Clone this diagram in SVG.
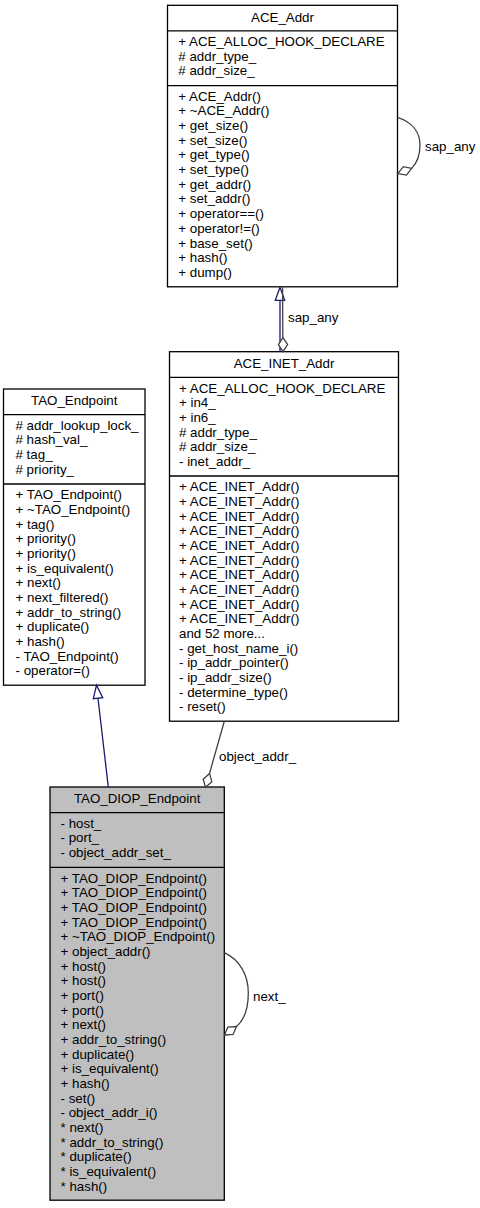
<svg xmlns="http://www.w3.org/2000/svg" width="480" height="1208" viewBox="0 0 480 1208">
<style>
text{font-family:"Liberation Sans",Arial,sans-serif;font-size:13.33px;fill:#000}
.t{text-anchor:middle}
.box{fill:#fff;stroke:#000;stroke-width:1.3}
.cur{fill:#bfbfbf;stroke:#000;stroke-width:1.3}
.sep{stroke:#000;stroke-width:1.3;fill:none}
.inh{stroke:#191970;stroke-width:1.3;fill:none}
.inhh{stroke:#191970;stroke-width:1.3;fill:#fff}
.use{stroke:#404040;stroke-width:1.3;fill:none}
.dia{stroke:#404040;stroke-width:1.3;fill:#fff}
</style>
<rect width="480" height="1208" fill="#fff"/>
<g id="ACE_Addr">
<rect class="box" x="167.5" y="5.3" width="230" height="281.5"/>
<line class="sep" x1="167.5" y1="30.9" x2="397.5" y2="30.9"/>
<line class="sep" x1="167.5" y1="85.6" x2="397.5" y2="85.6"/>
<text class="t" x="282.5" y="21.6">ACE_Addr</text>
<text><tspan x="178.3" y="46.1">+ ACE_ALLOC_HOOK_DECLARE</tspan><tspan x="178.3" dy="14.67"># addr_type_</tspan><tspan x="178.3" dy="14.67"># addr_size_</tspan></text>
<text><tspan x="178.3" y="100.8">+ ACE_Addr()</tspan><tspan x="178.3" dy="14.67">+ ~ACE_Addr()</tspan><tspan x="178.3" dy="14.67">+ get_size()</tspan><tspan x="178.3" dy="14.67">+ set_size()</tspan><tspan x="178.3" dy="14.67">+ get_type()</tspan><tspan x="178.3" dy="14.67">+ set_type()</tspan><tspan x="178.3" dy="14.67">+ get_addr()</tspan><tspan x="178.3" dy="14.67">+ set_addr()</tspan><tspan x="178.3" dy="14.67">+ operator==()</tspan><tspan x="178.3" dy="14.67">+ operator!=()</tspan><tspan x="178.3" dy="14.67">+ base_set()</tspan><tspan x="178.3" dy="14.67">+ hash()</tspan><tspan x="178.3" dy="14.67">+ dump()</tspan></text>
</g>
<g id="ACE_INET_Addr">
<rect class="box" x="169.5" y="351.7" width="229" height="369.5"/>
<line class="sep" x1="169.5" y1="377.3" x2="398.5" y2="377.3"/>
<line class="sep" x1="169.5" y1="476" x2="398.5" y2="476"/>
<text class="t" x="284" y="368">ACE_INET_Addr</text>
<text><tspan x="179" y="392.5">+ ACE_ALLOC_HOOK_DECLARE</tspan><tspan x="179" dy="14.67">+ in4_</tspan><tspan x="179" dy="14.67">+ in6_</tspan><tspan x="179" dy="14.67"># addr_type_</tspan><tspan x="179" dy="14.67"># addr_size_</tspan><tspan x="179" dy="14.67">- inet_addr_</tspan></text>
<text><tspan x="179" y="491.2">+ ACE_INET_Addr()</tspan><tspan x="179" dy="14.67">+ ACE_INET_Addr()</tspan><tspan x="179" dy="14.67">+ ACE_INET_Addr()</tspan><tspan x="179" dy="14.67">+ ACE_INET_Addr()</tspan><tspan x="179" dy="14.67">+ ACE_INET_Addr()</tspan><tspan x="179" dy="14.67">+ ACE_INET_Addr()</tspan><tspan x="179" dy="14.67">+ ACE_INET_Addr()</tspan><tspan x="179" dy="14.67">+ ACE_INET_Addr()</tspan><tspan x="179" dy="14.67">+ ACE_INET_Addr()</tspan><tspan x="179" dy="14.67">+ ACE_INET_Addr()</tspan><tspan x="179" dy="14.67">and 52 more...</tspan><tspan x="179" dy="14.67">- get_host_name_i()</tspan><tspan x="179" dy="14.67">- ip_addr_pointer()</tspan><tspan x="179" dy="14.67">- ip_addr_size()</tspan><tspan x="179" dy="14.67">- determine_type()</tspan><tspan x="179" dy="14.67">- reset()</tspan></text>
</g>
<g id="TAO_Endpoint">
<rect class="box" x="3.5" y="389" width="141.5" height="296.2"/>
<line class="sep" x1="3.5" y1="414.6" x2="145" y2="414.6"/>
<line class="sep" x1="3.5" y1="484" x2="145" y2="484"/>
<text class="t" x="74.25" y="405.3">TAO_Endpoint</text>
<text><tspan x="15.5" y="429.8"># addr_lookup_lock_</tspan><tspan x="15.5" dy="14.67"># hash_val_</tspan><tspan x="15.5" dy="14.67"># tag_</tspan><tspan x="15.5" dy="14.67"># priority_</tspan></text>
<text><tspan x="15.5" y="499.2">+ TAO_Endpoint()</tspan><tspan x="15.5" dy="14.67">+ ~TAO_Endpoint()</tspan><tspan x="15.5" dy="14.67">+ tag()</tspan><tspan x="15.5" dy="14.67">+ priority()</tspan><tspan x="15.5" dy="14.67">+ priority()</tspan><tspan x="15.5" dy="14.67">+ is_equivalent()</tspan><tspan x="15.5" dy="14.67">+ next()</tspan><tspan x="15.5" dy="14.67">+ next_filtered()</tspan><tspan x="15.5" dy="14.67">+ addr_to_string()</tspan><tspan x="15.5" dy="14.67">+ duplicate()</tspan><tspan x="15.5" dy="14.67">+ hash()</tspan><tspan x="15.5" dy="14.67">- TAO_Endpoint()</tspan><tspan x="15.5" dy="14.67">- operator=()</tspan></text>
</g>
<g id="TAO_DIOP_Endpoint">
<rect class="cur" x="50" y="787" width="174.3" height="413.2"/>
<line class="sep" x1="50" y1="812.6" x2="224.3" y2="812.6"/>
<line class="sep" x1="50" y1="867.3" x2="224.3" y2="867.3"/>
<text class="t" x="137.15" y="803.3">TAO_DIOP_Endpoint</text>
<text><tspan x="60.5" y="827.8">- host_</tspan><tspan x="60.5" dy="14.67">- port_</tspan><tspan x="60.5" dy="14.67">- object_addr_set_</tspan></text>
<text><tspan x="60.5" y="882.5">+ TAO_DIOP_Endpoint()</tspan><tspan x="60.5" dy="14.67">+ TAO_DIOP_Endpoint()</tspan><tspan x="60.5" dy="14.67">+ TAO_DIOP_Endpoint()</tspan><tspan x="60.5" dy="14.67">+ TAO_DIOP_Endpoint()</tspan><tspan x="60.5" dy="14.67">+ ~TAO_DIOP_Endpoint()</tspan><tspan x="60.5" dy="14.67">+ object_addr()</tspan><tspan x="60.5" dy="14.67">+ host()</tspan><tspan x="60.5" dy="14.67">+ host()</tspan><tspan x="60.5" dy="14.67">+ port()</tspan><tspan x="60.5" dy="14.67">+ port()</tspan><tspan x="60.5" dy="14.67">+ next()</tspan><tspan x="60.5" dy="14.67">+ addr_to_string()</tspan><tspan x="60.5" dy="14.67">+ duplicate()</tspan><tspan x="60.5" dy="14.67">+ is_equivalent()</tspan><tspan x="60.5" dy="14.67">+ hash()</tspan><tspan x="60.5" dy="14.67">- set()</tspan><tspan x="60.5" dy="14.67">- object_addr_i()</tspan><tspan x="60.5" dy="14.67">* next()</tspan><tspan x="60.5" dy="14.67">* addr_to_string()</tspan><tspan x="60.5" dy="14.67">* duplicate()</tspan><tspan x="60.5" dy="14.67">* is_equivalent()</tspan><tspan x="60.5" dy="14.67">* hash()</tspan></text>
</g>
<g id="connectors">
<!-- ACE_Addr self loop sap_any -->
<path class="use" d="M397.5,117.3 C412,122 420,132 420,145 C420,157 416,164 411.6,168.4"/>
<polygon class="dia" points="397.8,173.6 406.5,175.1 411.6,168.4 403.3,166.7"/>
<text x="425" y="150.5">sap_any</text>
<!-- ACE_INET_Addr inherits ACE_Addr -->
<line class="inh" x1="280" y1="351.7" x2="280" y2="300.3"/>
<polygon class="inhh" points="280,287.3 275.3,300.3 284.7,300.3"/>
<!-- ACE_Addr sap_any used by ACE_INET_Addr -->
<line class="use" x1="282.6" y1="287.3" x2="282.8" y2="337.6"/>
<polygon class="dia" points="283,351.7 287.6,344.6 283,337.6 278.4,344.6"/>
<text x="288" y="322">sap_any</text>
<!-- TAO_DIOP_Endpoint inherits TAO_Endpoint -->
<line class="inh" x1="108.3" y1="787" x2="98" y2="698.2"/>
<polygon class="inhh" points="96.5,685.2 93.3,698.7 102.7,697.7"/>
<!-- object_addr_ -->
<line class="use" x1="224.3" y1="721.2" x2="209.55" y2="773.4"/>
<polygon class="dia" points="205.5,787.3 211.8,781.7 209.55,773.4 203.2,779.2"/>
<text x="219" y="761">object_addr_</text>
<!-- TAO_DIOP_Endpoint self loop next_ -->
<path class="use" d="M224.3,952.7 C240,960 248.3,975 248.3,993 C248.3,1010 243,1021 236.5,1026.5"/>
<polygon class="dia" points="224.5,1035 233.1,1034.4 236.5,1026.5 227.9,1027.1"/>
<text x="253" y="1001">next_</text>
</g>
</svg>
